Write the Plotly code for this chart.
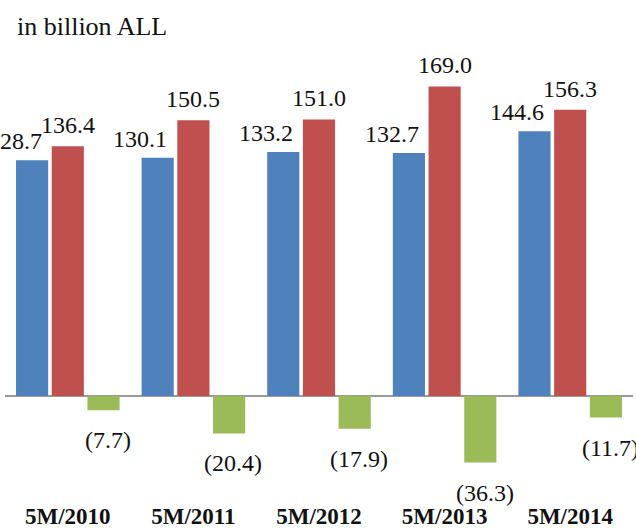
import plotly.graph_objects as go

categories = ["5M/2010", "5M/2011", "5M/2012", "5M/2013", "5M/2014"]
revenue = [128.7, 130.1, 133.2, 132.7, 144.6]
expenditure = [136.4, 150.5, 151.0, 169.0, 156.3]
balance = [-7.7, -20.4, -17.9, -36.3, -11.7]

blue = "#4F81BD"
red = "#C0504D"
green = "#9BBB59"
FONT = "'Liberation Serif', 'DejaVu Serif', serif"

fig = go.Figure()
for name, vals, col in [("Revenue", revenue, blue), ("Expenditure", expenditure, red), ("Balance", balance, green)]:
    fig.add_trace(go.Bar(x=categories, y=vals, name=name, marker=dict(color=col, line=dict(width=0))))

def fmt(v):
    return f"({abs(v):.1f})" if v < 0 else f"{v:.1f}"

annotations = []
for i, c in enumerate(categories):
    annotations.append(dict(x=c, y=revenue[i], text=fmt(revenue[i]), showarrow=False, xref="x", yref="y",
                            yanchor="bottom", yshift=4, xshift=-53, font=dict(family=FONT, size=24, color="#111")))
    annotations.append(dict(x=c, y=expenditure[i], text=fmt(expenditure[i]), showarrow=False, xref="x", yref="y",
                            yanchor="bottom", yshift=6, xshift=0, font=dict(family=FONT, size=24, color="#111")))
    annotations.append(dict(x=c, y=balance[i], text=fmt(balance[i]), showarrow=False, xref="x", yref="y",
                            yanchor="top", yshift=-15, xshift=40, font=dict(family=FONT, size=24, color="#111")))

annotations.append(dict(x=0, y=1, xref="paper", yref="paper", xanchor="left", yanchor="top",
                        text="in billion ALL", showarrow=False, xshift=10, yshift=38,
                        font=dict(family=FONT, size=26, color="#111")))

fig.update_layout(
    width=636, height=529,
    margin=dict(l=5, r=3, t=48, b=34, autoexpand=False),
    paper_bgcolor="white", plot_bgcolor="white",
    barmode="group", bargap=0.147, bargroupgap=0.1,
    showlegend=False,
    annotations=annotations,
    xaxis=dict(range=[-0.5, 4.5], automargin=False, showgrid=False, showline=False, ticks="",
               tickfont=dict(family=FONT, size=23, color="#111"), ticklabelstandoff=5,
               tickprefix="<b>", ticksuffix="</b>", fixedrange=True),
    yaxis=dict(range=[-54, 190], automargin=False, showgrid=False, showticklabels=False, ticks="",
               zeroline=True, zerolinecolor="#9a9a9a", zerolinewidth=2, showline=False, fixedrange=True),
)

fig.write_html("out.html", config={"displayModeBar": False, "staticPlot": True},
               post_script="document.body.style.margin='0';document.body.style.overflow='hidden';")
